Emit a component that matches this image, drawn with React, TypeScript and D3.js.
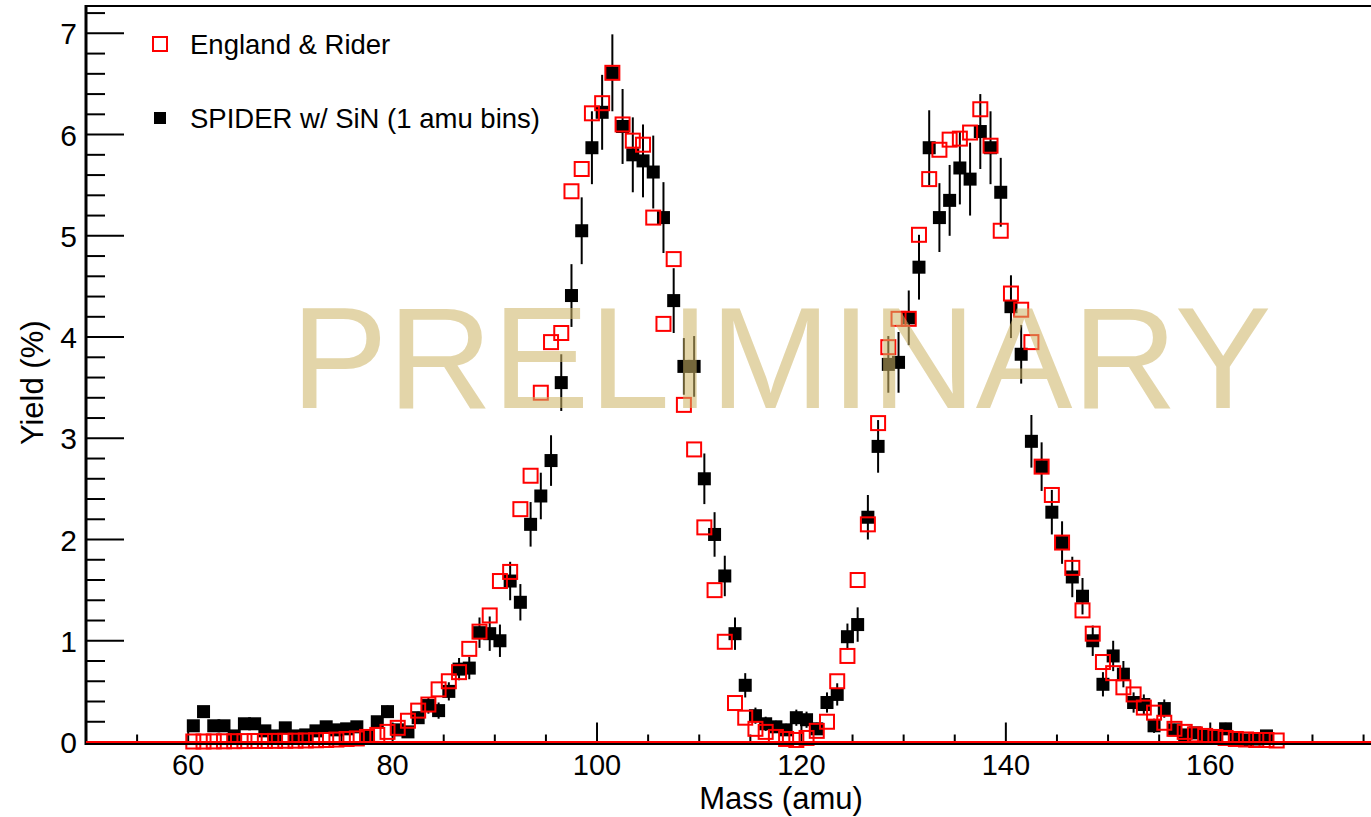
import React from 'react';
import * as d3 from 'd3';

// bin centres (1 amu bins)
const spiderMass = d3.range(60.5, 166, 1);
const spiderYield = [
  0.16, 0.30, 0.16, 0.16, 0.06, 0.18, 0.18, 0.11, 0.06, 0.14,
  0.06, 0.07, 0.11, 0.15, 0.12, 0.13, 0.15, 0.06, 0.20, 0.30,
  0.12, 0.10, 0.24, 0.36, 0.31, 0.50, 0.72, 0.73, 1.08, 1.07,
  1.00, 1.59, 1.38, 2.15, 2.43, 2.78, 3.55, 4.41, 5.05, 5.87,
  6.22, 6.61, 6.08, 5.80, 5.74, 5.63, 5.18, 4.36, 3.71, 3.71,
  2.60, 2.05, 1.64, 1.07, 0.56, 0.26, 0.18, 0.15, 0.12, 0.24,
  0.22, 0.13, 0.39, 0.47, 1.04, 1.16, 2.22, 2.92, 3.73, 3.75,
  4.19, 4.69, 5.87, 5.18, 5.35, 5.67, 5.56, 6.03, 5.87, 5.43,
  4.30, 3.83, 2.97, 2.72, 2.27, 1.97, 1.63, 1.44, 1.00, 0.57,
  0.85, 0.67, 0.39, 0.37, 0.16, 0.33, 0.12, 0.07, 0.09, 0.06,
  0.05, 0.13, 0.03, 0.02, 0.03, 0.06,
];
const spiderErr = [
  0.04, 0.05, 0.04, 0.04, 0.03, 0.04, 0.04, 0.04, 0.03, 0.04,
  0.03, 0.03, 0.04, 0.04, 0.04, 0.04, 0.04, 0.03, 0.05, 0.06,
  0.05, 0.05, 0.06, 0.08, 0.08, 0.09, 0.11, 0.11, 0.15, 0.17,
  0.16, 0.19, 0.18, 0.22, 0.23, 0.25, 0.28, 0.31, 0.33, 0.36,
  0.37, 0.38, 0.37, 0.37, 0.36, 0.36, 0.35, 0.32, 0.28, 0.30,
  0.25, 0.22, 0.20, 0.16, 0.12, 0.08, 0.07, 0.06, 0.06, 0.08,
  0.08, 0.06, 0.10, 0.11, 0.13, 0.17, 0.22, 0.26, 0.28, 0.30,
  0.27, 0.32, 0.37, 0.34, 0.35, 0.36, 0.36, 0.37, 0.36, 0.34,
  0.31, 0.29, 0.26, 0.24, 0.22, 0.21, 0.20, 0.18, 0.15, 0.12,
  0.15, 0.13, 0.10, 0.10, 0.07, 0.09, 0.06, 0.05, 0.05, 0.05,
  0.04, 0.06, 0.03, 0.03, 0.03, 0.04,
];

const erMass = d3.range(60.5, 167, 1);
const erYield = [
  0.005, 0.005, 0.006, 0.007, 0.008, 0.009, 0.010, 0.010, 0.011, 0.012,
  0.013, 0.015, 0.017, 0.020, 0.024, 0.030, 0.035, 0.05, 0.07, 0.10,
  0.14, 0.21, 0.31, 0.37, 0.52, 0.60, 0.69, 0.92, 1.09, 1.25,
  1.59, 1.68, 2.30, 2.63, 3.45, 3.95, 4.04, 5.44, 5.66, 6.21,
  6.31, 6.61, 6.10, 5.94, 5.90, 5.18, 4.13, 4.77, 3.33, 2.89,
  2.12, 1.50, 0.99, 0.385, 0.24, 0.13, 0.10, 0.05, 0.03, 0.02,
  0.04, 0.11, 0.20, 0.60, 0.85, 1.60, 2.15, 3.15, 3.90, 4.18,
  4.18, 5.01, 5.56, 5.85, 5.95, 5.96, 6.02, 6.25, 5.89, 5.05,
  4.43, 4.27, 3.95, 2.72, 2.44, 1.97, 1.72, 1.30, 1.07, 0.79,
  0.68, 0.54, 0.47, 0.34, 0.29, 0.19, 0.13, 0.10, 0.075, 0.06,
  0.05, 0.04, 0.03, 0.025, 0.02, 0.02, 0.015,
];

const xLabels = [60, 80, 100, 120, 140, 160];
const xTicks = d3.range(55, 186, 5);
const yLabels = [0, 1, 2, 3, 4, 5, 6, 7];
const yTicks = d3.range(0, 7.3, 0.2);

const legendLabels = ['England & Rider', 'SPIDER w/ SiN (1 amu bins)'];

const W = 1371, H = 817;
const FONT = '"Liberation Sans", Arial, Helvetica, sans-serif';

export default function App() {
  const x = d3.scaleLinear().domain([50, 186]).range([86, 1476]);
  const y = d3.scaleLinear().domain([0, 7.27]).range([742, 6]);
  const left = x(50), bottom = 743.5, top = y(7.27);
  const ms = 13; // marker size

  return (
    <svg width={W} height={H} style={{ position: 'absolute', left: 0, top: 0, background: '#fff' }}
      fontFamily={FONT}>
      <rect width={W} height={H} fill="#fff" />

      {/* frame */}
      <line x1={left} x2={W + 10} y1={top} y2={top} stroke="#000" strokeWidth={2} />

      {/* x ticks */}
      {xTicks.map(t => (
        <line key={'xm' + t} x1={x(t)} x2={x(t)} y1={bottom} y2={bottom - (t % 20 === 0 ? 21 : 9)}
          stroke="#000" strokeWidth={2} />
      ))}
      {xLabels.map(t => (
        <text key={'xl' + t} x={x(t)} y={775} textAnchor="middle" fontSize={29}>{t}</text>
      ))}
      {/* y ticks */}
      {yTicks.map((t, i) => (
        <line key={'ym' + i} x1={left} x2={left + (i % 5 === 0 ? 38 : 19)} y1={y(t)} y2={y(t)}
          stroke="#000" strokeWidth={2} />
      ))}
      {yLabels.map(t => (
        <text key={'yl' + t} x={77} y={y(t) + 11} textAnchor="end" fontSize={30}>{t}</text>
      ))}

      <text x={781} y={809} textAnchor="middle" fontSize={31}>Mass (amu)</text>
      <text transform={`translate(43,${(top + bottom) / 2 + 8}) rotate(-90)`} textAnchor="middle" fontSize={31}>Yield (%)</text>

      {/* SPIDER points with error bars */}
      {spiderMass.map((m, i) => (
        <g key={'s' + i}>
          <line x1={x(m)} x2={x(m)} y1={y(spiderYield[i] - spiderErr[i])} y2={y(spiderYield[i] + spiderErr[i])}
            stroke="#000" strokeWidth={2} />
          <rect x={x(m) - ms / 2} y={y(spiderYield[i]) - ms / 2} width={ms} height={ms} fill="#000" />
        </g>
      ))}

      {/* England & Rider */}
      {erMass.map((m, i) => (
        <rect key={'e' + i} x={x(m) - 7} y={y(erYield[i]) - 7} width={14} height={14}
          fill="none" stroke="#ff0000" strokeWidth={2} />
      ))}

      {/* axes lines */}
      <line x1={left} x2={left} y1={top - 1} y2={bottom + 1.5} stroke="#000" strokeWidth={3} />
      <line x1={left} x2={W + 10} y1={bottom} y2={bottom} stroke="#000" strokeWidth={3} />
      <line x1={left} x2={W + 10} y1={y(0)} y2={y(0)} stroke="#ff0000" strokeWidth={2} />

      {/* legend */}
      <rect x={153} y={37} width={14} height={14} fill="none" stroke="#ff0000" strokeWidth={2} />
      <text x={190} y={54} fontSize={27.5}>{legendLabels[0]}</text>
      <rect x={154} y={112} width={12} height={12} fill="#000" />
      <text x={190} y={128} fontSize={27.5}>{legendLabels[1]}</text>

      <text x={291} y={408} fontSize={145} fill="rgb(205,181,104)" fillOpacity={0.57}>PRELIMINARY</text>
    </svg>
  );
}
